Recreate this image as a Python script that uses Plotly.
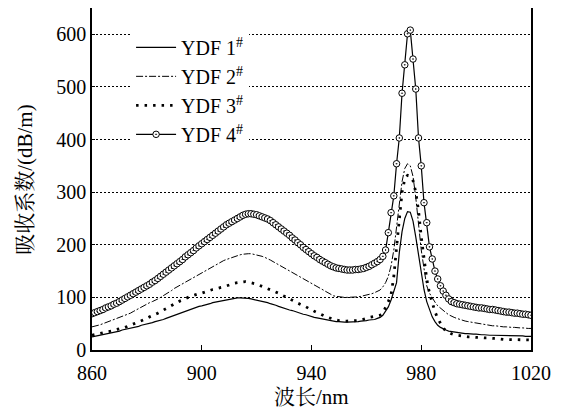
import plotly.graph_objects as go

wavelength = list(range(860, 1021))

ydf1 = [25,26,27,28,29,30,31,33,34,35,36,
        38,39,40,41,43,44,45,47,48,50,
        51,52,54,55,57,58,60,62,64,66,
        67,69,71,73,75,77,79,81,83,84,
        85,87,88,90,91,93,94,95,96,97,
        98,98,99,99,99,99,98,97,96,95,
        94,93,91,90,88,87,85,83,81,80,
        78,76,75,73,71,70,68,67,65,64,
        62,61,60,58,57,56,55,55,54,54,
        53,53,53,53,53,54,54,55,55,56,
        57,57,58,60,62,66,73,82,95,110,
        128,185,225,250,263,262,245,215,180,145,
        115,92,76,63,54,47,43,40,38,36,
        35,34,33,32,32,31,31,30,30,30,
        29,29,29,28,28,28,28,28,27,27,
        27,27,27,27,27,27,27,26,26,26]

ydf2 = [44,45,47,48,50,52,53,55,57,59,61,
        63,65,68,70,73,76,79,82,85,88,
        90,92,94,97,100,103,107,110,113,117,
        120,123,126,129,132,135,138,141,144,147,
        150,153,156,159,162,165,168,170,172,174,
        176,178,180,181,182,183,183,183,182,181,
        180,178,176,174,171,168,165,162,159,156,
        153,150,147,144,141,138,135,132,129,126,
        123,120,117,114,111,108,105,103,102,101,
        101,100,100,100,100,101,101,102,103,104,
        105,107,109,111,114,120,128,140,160,190,
        230,275,320,345,354,350,330,290,235,190,
        155,122,108,98,91,84,79,75,71,67,
        64,62,60,58,57,55,54,53,52,51,
        50,49,48,47,47,46,46,45,45,44,
        44,43,43,43,42,42,42,41,41,41]

ydf3 = [28,29,30,31,32,34,35,36,37,39,40,
        41,43,45,47,49,51,53,55,58,60,
        63,65,68,70,73,76,79,82,85,88,
        90,93,95,98,100,102,104,105,107,108,
        110,112,113,115,116,118,119,120,122,124,
        125,127,128,129,130,130,129,128,127,125,
        123,121,119,117,115,113,110,108,105,103,
        100,97,95,92,89,87,84,82,79,76,
        74,71,69,66,64,62,60,58,57,56,
        55,55,55,55,55,56,56,57,58,60,
        62,63,64,65,66,70,80,92,105,140,
        195,253,300,325,332,330,322,300,265,215,
        170,135,108,88,73,60,50,42,36,33,
        31,29,28,27,26,26,25,25,24,24,
        24,23,23,23,22,22,22,21,21,20,
        20,20,20,20,20,19,19,19,19,19]

ydf4 = [69,71,73,75,77,80,82,84,87,89,92,
        95,98,101,104,107,110,113,116,119,122,
        125,129,132,136,140,144,148,152,156,160,
        164,168,172,177,181,185,189,194,198,202,
        206,210,214,218,222,226,230,234,238,241,
        244,247,250,253,256,258,259,259,258,257,
        255,253,251,249,246,242,238,234,230,226,
        222,218,213,209,204,200,195,191,187,183,
        179,176,172,169,166,163,160,158,156,155,
        154,153,152,152,152,153,153,154,155,157,
        159,162,165,168,172,178,190,223,261,293,
        354,403,488,542,601,608,553,496,403,350,
        280,242,196,173,150,135,122,112,104,97,
        92,90,88,87,86,85,84,83,82,81,
        80,80,79,78,77,77,76,75,74,73,
        72,72,71,70,70,69,68,68,67,66]

names = ["YDF 1<sup>#</sup>", "YDF 2<sup>#</sup>", "YDF 3<sup>#</sup>", "YDF 4<sup>#</sup>"]
x_title = "波长/nm"
y_title = "吸收系数/(dB/m)"

FONT = "Liberation Serif, Times New Roman, Noto Sans CJK SC, serif"
TITLE_FONT = "Liberation Serif, Noto Serif CJK SC, Noto Sans CJK SC, serif"

fig = go.Figure()
fig.add_trace(go.Scatter(x=wavelength, y=ydf1, mode="lines", name=names[0],
                         line=dict(color="black", width=1.2)))
fig.add_trace(go.Scatter(x=wavelength, y=ydf2, mode="lines", name=names[1],
                         line=dict(color="black", width=1, dash="7px,2px,2px,2px")))
fig.add_trace(go.Scatter(x=wavelength, y=ydf3, mode="lines", name=names[2],
                         line=dict(color="black", width=2.8, dash="2.5px,6px")))
fig.add_trace(go.Scatter(x=wavelength, y=ydf4, mode="lines+markers", name=names[3],
                         line=dict(color="black", width=1.2),
                         marker=dict(symbol="circle-dot", size=6.5, color="white",
                                     line=dict(color="black", width=1))))

fig.update_layout(
    width=557, height=404,
    margin=dict(l=84, r=34, t=0, b=62, autoexpand=False),
    paper_bgcolor="white", plot_bgcolor="white",
    font=dict(family=FONT, size=20, color="black"),
    showlegend=True,
    legend=dict(x=0.089, y=0.942, xanchor="left", yanchor="top",
                bgcolor="white", borderwidth=0,
                font=dict(family=FONT, size=20),
                tracegroupgap=0, itemwidth=40),
    annotations=[
        dict(text=x_title, xref="paper", yref="paper", x=0.501, y=-0.137,
             xanchor="center", yanchor="middle", showarrow=False,
             font=dict(family=TITLE_FONT, size=21)),
        dict(text=y_title, xref="paper", yref="paper", x=-0.153, y=0.5,
             xanchor="center", yanchor="middle", showarrow=False, textangle=-90,
             font=dict(family=TITLE_FONT, size=21)),
    ],
)
fig.update_xaxes(
    range=[860, 1020], tickvals=[860, 900, 940, 980, 1020],
    showline=True, linecolor="black", linewidth=1.5, mirror=True,
    ticks="inside", ticklen=5, tickcolor="black", ticklabelstandoff=4,
    showgrid=False, zeroline=False, automargin=False,
)
fig.update_yaxes(
    range=[0, 650], tickvals=[0, 100, 200, 300, 400, 500, 600],
    showline=True, linecolor="black", linewidth=1.5, mirror=True,
    ticks="inside", ticklen=3, tickcolor="black",
    showgrid=True, gridcolor="black", gridwidth=1, griddash="2px,2px",
    zeroline=False, automargin=False,
)

fig.write_html("out.html")
